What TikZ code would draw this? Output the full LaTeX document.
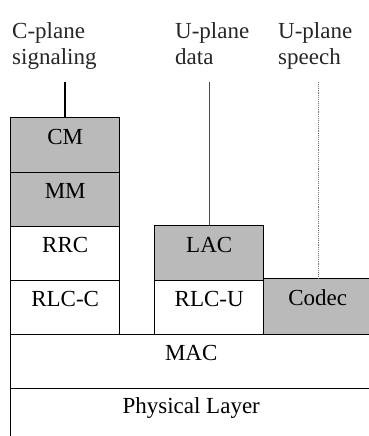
\documentclass[tikz,border=0pt]{standalone}
\usepackage{fontspec}
\setmainfont{Liberation Serif}
\begin{document}
\begin{tikzpicture}[x=1pt, y=-1pt,
        layer/.style={draw, line width=1.4pt, anchor=north west, inner sep=0pt,
            font=\fontsize{23}{26}\selectfont, text height=16pt, text depth=18pt},
        shaded/.style={layer, fill=black!27},
        plane/.style={anchor=north west, inner sep=0pt, align=left,
            font=\fontsize{23}{26}\selectfont, text=black!85}]
            % 1. Fix the page size (the right side is cut off)
            \clip (0,0) rectangle (369,436);

            % 2. Plane labels at the top
            \node[plane] (cplane) at (12,22) {C-plane\\signaling};
            \node[plane] (udata) at (175,22) {U-plane\\data};
            \node[plane] (uspeech) at (278,22) {U-plane\\speech};

            % 3. Control plane stack
            \node[shaded, minimum width=109pt, minimum height=55pt] (cm) at (10,117) {CM};
            \node[shaded, minimum width=109pt, minimum height=54pt] (mm) at (10,172) {MM};
            \node[layer, minimum width=109pt, minimum height=54pt] (rrc) at (10,226) {RRC};
            \node[layer, minimum width=109pt, minimum height=54pt] (rlcc) at (10,280) {RLC-C};

            % 4. User plane stacks
            \node[shaded, minimum width=109pt, minimum height=55pt] (lac) at (154,225) {LAC};
            \node[layer, minimum width=109pt, minimum height=54pt] (rlcu) at (154,280) {RLC-U};
            \node[shaded, minimum width=108pt, minimum height=56pt] (codec) at (263,278) {Codec};

            % 5. Common layers
            \node[layer, minimum width=361pt, minimum height=54pt] (mac) at (10,334) {MAC};
            \node[layer, minimum width=361pt, minimum height=52pt] (phy) at (10,388) {Physical Layer};

            % 6. Lines from the labels down to the stacks
            \coordinate (ctop) at (65,82);
            \coordinate (dtop) at (209,82);
            \coordinate (speechtop) at (318,82);
            \draw[line width=1.2pt] (ctop) -- (ctop |- cm.north);
            \draw[line width=0.9pt, black!70] (dtop) -- (dtop |- lac.north);
            \draw[line width=0.9pt, black!55, densely dotted] (speechtop) -- (speechtop |- codec.north);
\end{tikzpicture}
\end{document}
